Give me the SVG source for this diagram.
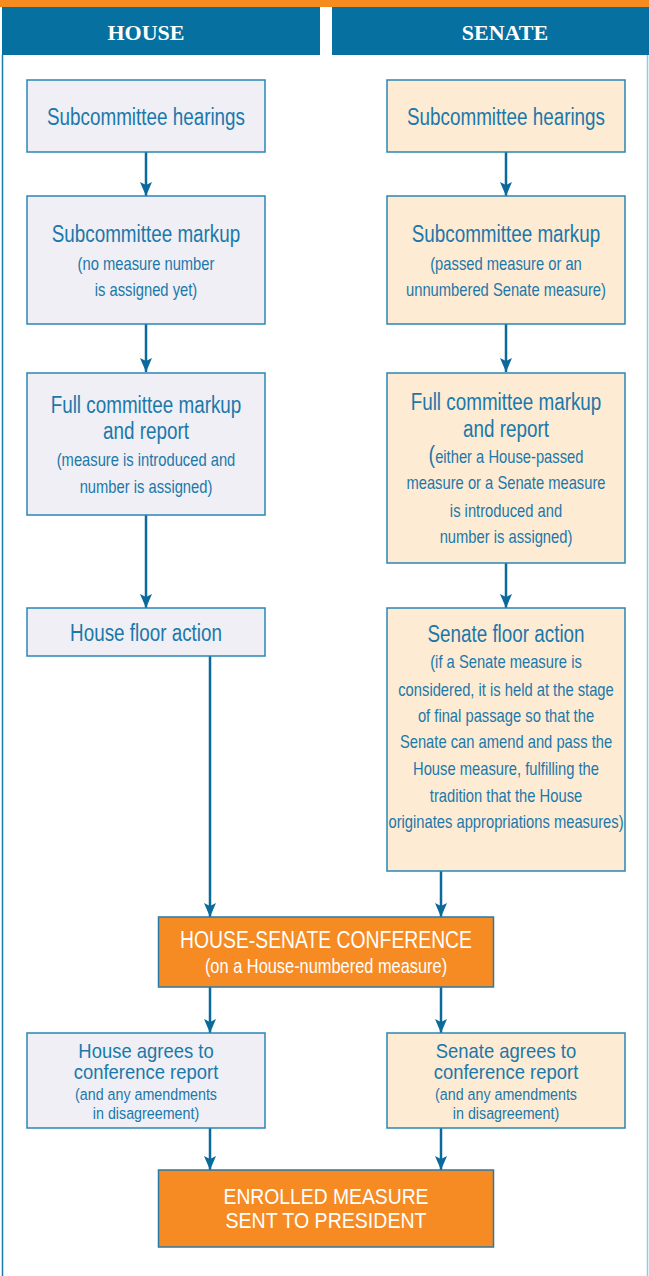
<svg xmlns="http://www.w3.org/2000/svg" width="649" height="1276" viewBox="0 0 649 1276">
<style>
.hb{fill:#efeff5;stroke:#2a86b4;stroke-width:1.5}
.sb{fill:#feebd3;stroke:#2a86b4;stroke-width:1.5}
.ob{fill:#f68b23;stroke:#2a7aa8;stroke-width:1.5}
.t{font-family:"Liberation Sans",Arial,sans-serif;fill:#1b78aa;text-anchor:middle}
.ti{font-size:23px}
.su{font-size:18px}
.sm{font-size:17px}
.at{font-size:20.5px}
.w{fill:#fff}
.hd{font-family:"Liberation Serif","Times New Roman",serif;font-weight:bold;font-size:22px;fill:#fff;text-anchor:middle}
.c{stroke:#0a6a9c;stroke-width:2.5;fill:none;marker-end:url(#ah)}
</style>
<defs>
<marker id="ah" viewBox="0 0 14 12" refX="14" refY="6" markerWidth="14" markerHeight="12" markerUnits="userSpaceOnUse" orient="auto">
<path d="M0,0 L14,6 L0,12 L3,6 Z" fill="#0a6a9c"/>
</marker>
</defs>
<rect x="0" y="0" width="649" height="7" fill="#f68b1f"/>
<g id="frame">
<line x1="2.5" y1="55" x2="2.5" y2="1276" stroke="#1a7aaa" stroke-width="1.5"/>
<line x1="647.5" y1="55" x2="647.5" y2="1276" stroke="#8ccfe0" stroke-width="1.5"/>
</g>
<g id="header-house">
<rect x="2" y="7" width="318" height="48" fill="#0670a0"/>
<text class="hd" x="146" y="40">HOUSE</text>
</g>
<g id="header-senate">
<rect x="332" y="7" width="317" height="48" fill="#0670a0"/>
<text class="hd" x="505" y="40">SENATE</text>
</g>

<g id="connectors">
<line class="c" x1="146" y1="152" x2="146" y2="196"/>
<line class="c" x1="146" y1="324" x2="146" y2="372"/>
<line class="c" x1="146" y1="515" x2="146" y2="608"/>
<line class="c" x1="506" y1="152" x2="506" y2="196"/>
<line class="c" x1="506" y1="324" x2="506" y2="372"/>
<line class="c" x1="506" y1="563" x2="506" y2="608"/>
<line class="c" x1="210" y1="656" x2="210" y2="917"/>
<line class="c" x1="441" y1="871" x2="441" y2="917"/>
<line class="c" x1="210" y1="987" x2="210" y2="1033"/>
<line class="c" x1="441" y1="987" x2="441" y2="1033"/>
<line class="c" x1="210" y1="1128" x2="210" y2="1170"/>
<line class="c" x1="441" y1="1128" x2="441" y2="1170"/>
</g>

<g id="h-hearings">
<rect class="hb" x="27" y="80" width="238" height="72"/>
<g transform="translate(146 0) scale(0.82 1)">
<text class="t ti" x="0" y="125">Subcommittee hearings</text>
</g>
</g>
<g id="h-markup">
<rect class="hb" x="27" y="196" width="238" height="128"/>
<g transform="translate(146 0) scale(0.82 1)">
<text class="t ti" x="0" y="242">Subcommittee markup</text>
<text class="t su" x="0" y="270">(no measure number</text>
<text class="t su" x="0" y="296">is assigned yet)</text>
</g>
</g>
<g id="h-full">
<rect class="hb" x="27" y="373" width="238" height="142"/>
<g transform="translate(146 0) scale(0.82 1)">
<text class="t ti" x="0" y="413">Full committee markup</text>
<text class="t ti" x="0" y="439">and report</text>
<text class="t su" x="0" y="466">(measure is introduced and</text>
<text class="t su" x="0" y="493">number is assigned)</text>
</g>
</g>
<g id="h-floor">
<rect class="hb" x="27" y="608" width="238" height="48"/>
<g transform="translate(146 0) scale(0.82 1)">
<text class="t ti" x="0" y="641">House floor action</text>
</g>
</g>

<g id="s-hearings">
<rect class="sb" x="387" y="80" width="238" height="72"/>
<g transform="translate(506 0) scale(0.82 1)">
<text class="t ti" x="0" y="125">Subcommittee hearings</text>
</g>
</g>
<g id="s-markup">
<rect class="sb" x="387" y="196" width="238" height="128"/>
<g transform="translate(506 0) scale(0.82 1)">
<text class="t ti" x="0" y="242">Subcommittee markup</text>
<text class="t su" x="0" y="270">(passed measure or an</text>
<text class="t su" x="0" y="296">unnumbered Senate measure)</text>
</g>
</g>
<g id="s-full">
<rect class="sb" x="387" y="373" width="238" height="190"/>
<g transform="translate(506 0) scale(0.82 1)">
<text class="t ti" x="0" y="410">Full committee markup</text>
<text class="t ti" x="0" y="437">and report</text>
<text class="t su" x="0" y="463"><tspan font-size="24px">(</tspan>either a House-passed</text>
<text class="t su" x="0" y="489">measure or a Senate measure</text>
<text class="t su" x="0" y="517">is introduced and</text>
<text class="t su" x="0" y="543">number is assigned)</text>
</g>
</g>
<g id="s-floor">
<rect class="sb" x="387" y="608" width="238" height="263"/>
<g transform="translate(506 0) scale(0.82 1)">
<text class="t ti" x="0" y="642">Senate floor action</text>
<text class="t su" x="0" y="668">(if a Senate measure is</text>
<text class="t su" x="0" y="696">considered, it is held at the stage</text>
<text class="t su" x="0" y="722">of final passage so that the</text>
<text class="t su" x="0" y="748">Senate can amend and pass the</text>
<text class="t su" x="0" y="775">House measure, fulfilling the</text>
<text class="t su" x="0" y="802">tradition that the House</text>
<text class="t su" x="0" y="828">originates appropriations measures)</text>
</g>
</g>

<g id="conference">
<rect class="ob" x="158.5" y="917" width="335" height="70"/>
<text class="t w" x="326" y="948" font-size="23px" textLength="292" lengthAdjust="spacingAndGlyphs">HOUSE-SENATE CONFERENCE</text>
<g transform="translate(326 0) scale(0.82 1)">
<text class="t w" x="0" y="973" font-size="20px">(on a House-numbered measure)</text>
</g>
</g>

<g id="h-agrees">
<rect class="hb" x="27" y="1033" width="238" height="95"/>
<g transform="translate(146 0) scale(0.9 1)">
<text class="t at" x="0" y="1058">House agrees to</text>
<text class="t at" x="0" y="1079">conference report</text>
</g>
<g transform="translate(146 0) scale(0.84 1)">
<text class="t sm" x="0" y="1100">(and any amendments</text>
<text class="t sm" x="0" y="1119">in disagreement)</text>
</g>
</g>
<g id="s-agrees">
<rect class="sb" x="387" y="1033" width="238" height="95"/>
<g transform="translate(506 0) scale(0.9 1)">
<text class="t at" x="0" y="1058">Senate agrees to</text>
<text class="t at" x="0" y="1079">conference report</text>
</g>
<g transform="translate(506 0) scale(0.84 1)">
<text class="t sm" x="0" y="1100">(and any amendments</text>
<text class="t sm" x="0" y="1119">in disagreement)</text>
</g>
</g>

<g id="enrolled">
<rect class="ob" x="158.5" y="1170" width="335" height="77"/>
<text class="t w" x="326" y="1204" font-size="22px" textLength="205" lengthAdjust="spacingAndGlyphs">ENROLLED MEASURE</text>
<text class="t w" x="326" y="1228" font-size="22px" textLength="201" lengthAdjust="spacingAndGlyphs">SENT TO PRESIDENT</text>
</g>
</svg>
